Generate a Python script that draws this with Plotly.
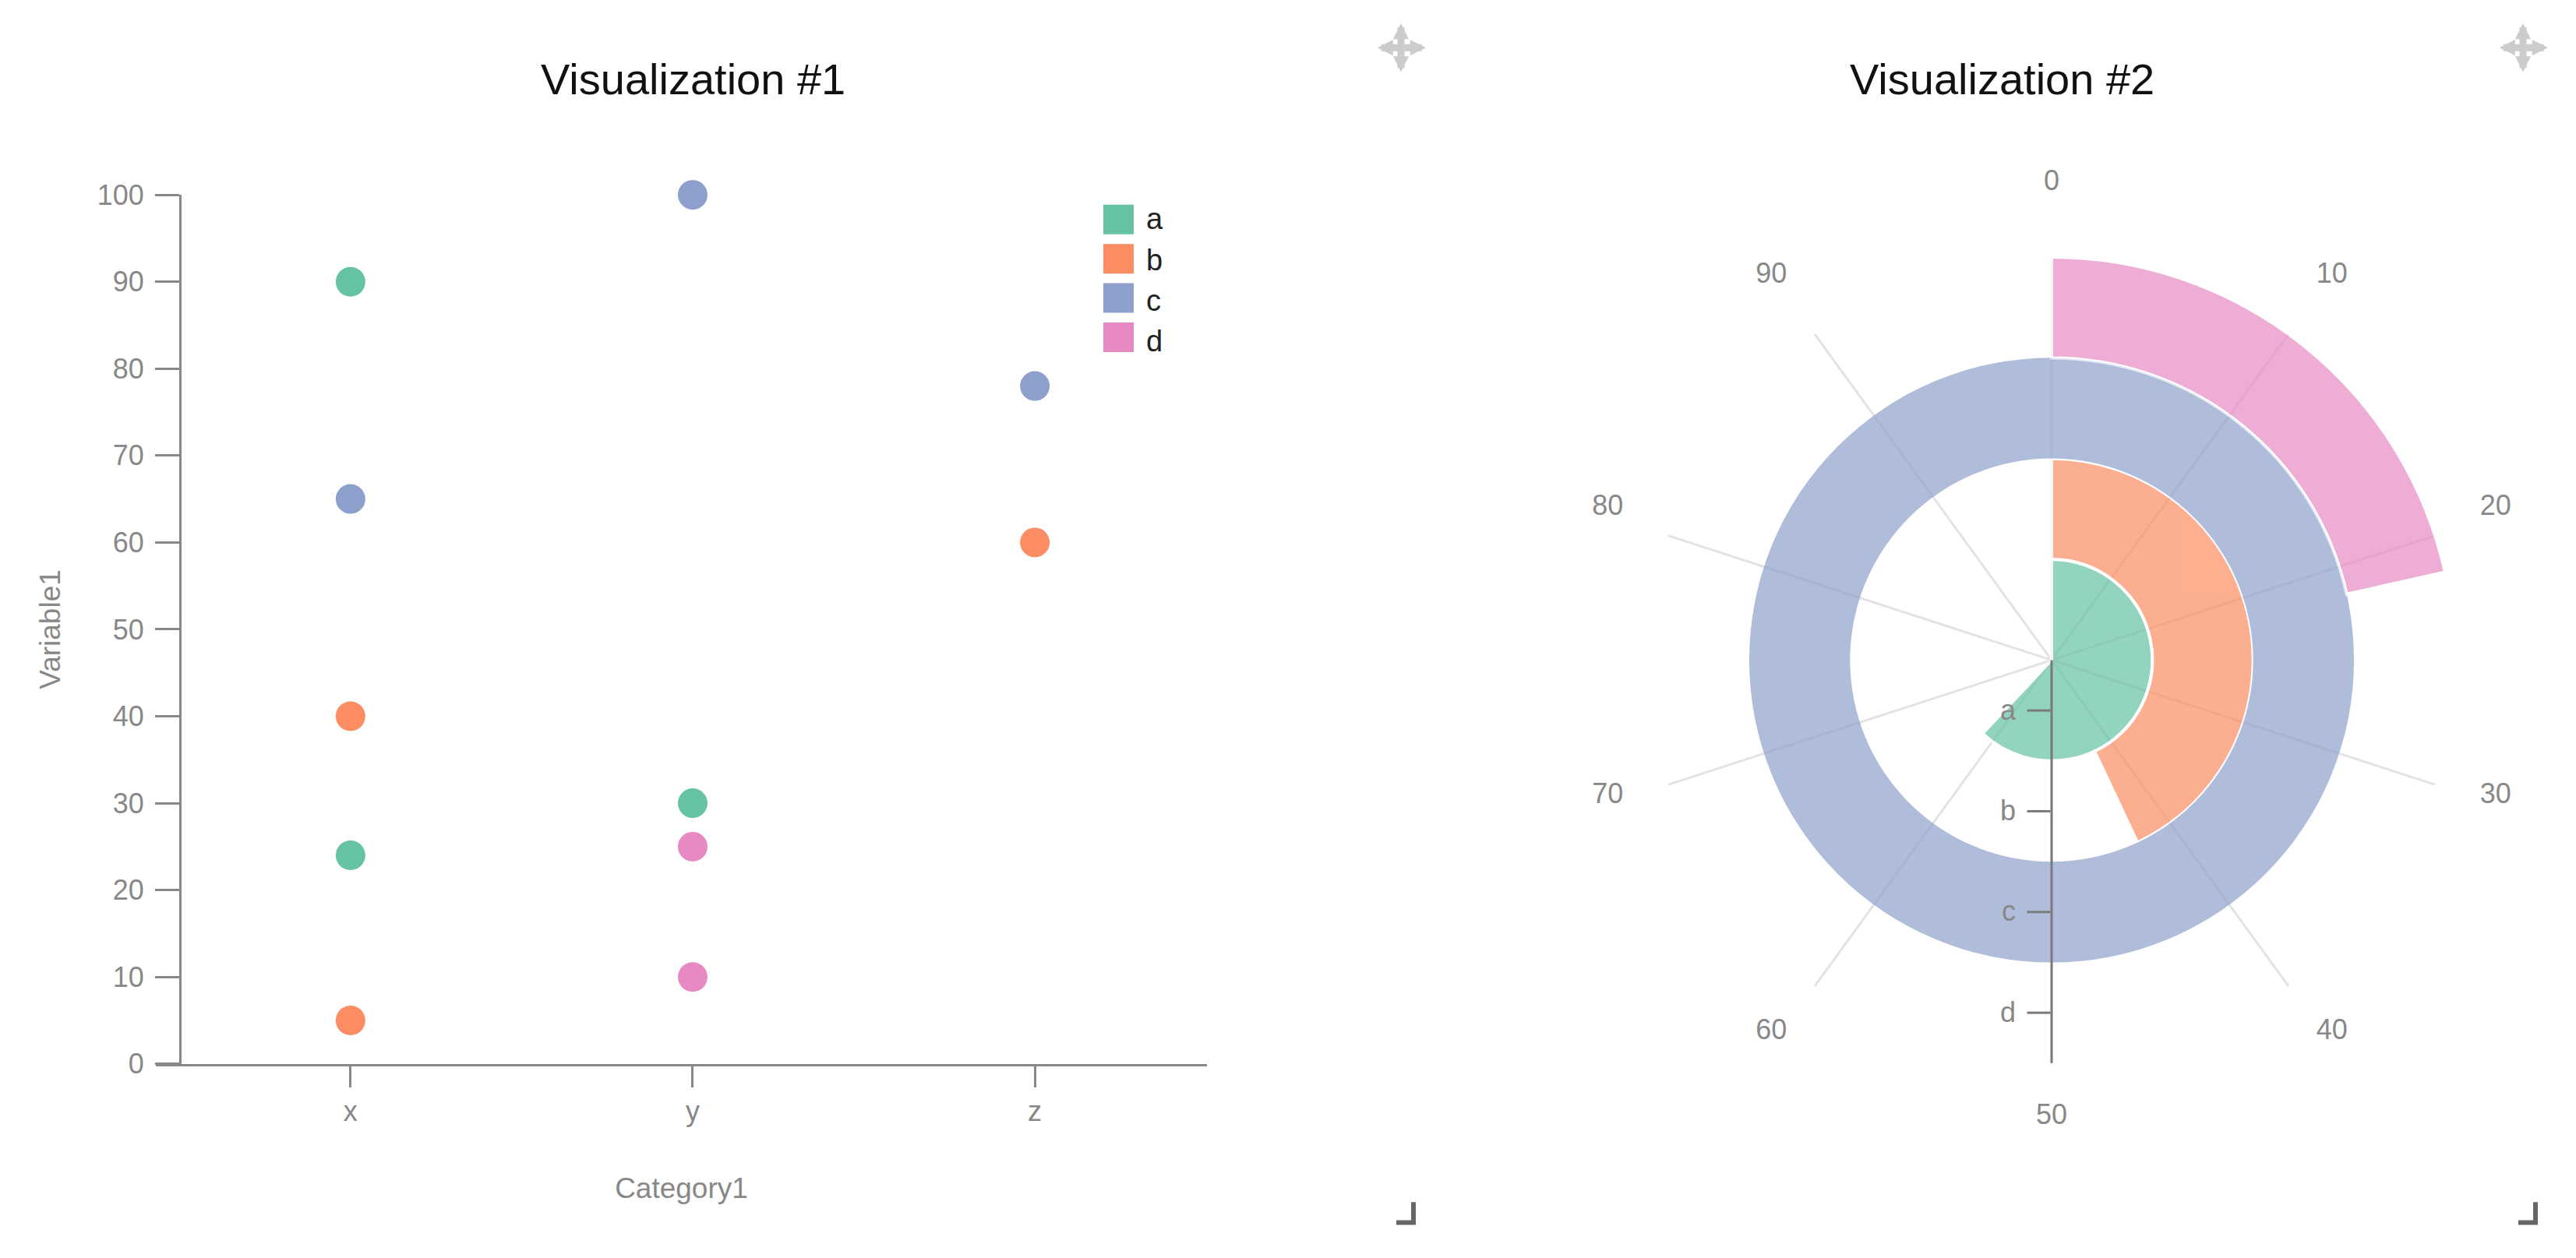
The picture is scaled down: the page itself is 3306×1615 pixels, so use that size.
import plotly.graph_objects as go

# scatter data (Visualization #1)
categories = ["x", "y", "z"]
groups = ["a", "b", "c", "d"]
a_cat = ["x", "x", "y"]
a_val = [90, 24, 30]
b_cat = ["x", "x", "z"]
b_val = [40, 5, 60]
c_cat = ["x", "y", "z"]
c_val = [65, 100, 78]
d_cat = ["y", "y"]
d_val = [25, 10]

# radial bar data (Visualization #2), angular scale 0-100
ring_values = [62, 43, 100, 21.5]
angle_ticks = [0, 10, 20, 30, 40, 50, 60, 70, 80, 90]

colors = ["#66c2a5", "#fc8d62", "#8da0cb", "#e78ac3"]

# the page body keeps its default 8px margin, so the figure is a bit smaller
OFF = 8
W, H = 3306 - 2 * OFF, 1615 - 2 * OFF
FONT = "Liberation Sans, Arial, sans-serif"
GRAY = "#888888"


def px_x(v):
    return (v - OFF) / W


def px_y(v):
    return 1 - (v - OFF) / H


fig = go.Figure()

points = [(a_cat, a_val), (b_cat, b_val), (c_cat, c_val), (d_cat, d_val)]
for name, (cats, vals), col in zip(groups, points, colors):
    fig.add_trace(go.Scatter(
        x=cats, y=vals, mode="markers", name=name, legendgroup=name,
        showlegend=False, cliponaxis=False,
        marker=dict(size=38, color=col, line=dict(width=0)),
        xaxis="x", yaxis="y",
    ))
    # legend entry; its swatch is drawn as a bigger square below
    fig.add_trace(go.Scatter(
        x=[None], y=[None], mode="markers", name=name, legendgroup=name,
        marker=dict(size=2, color="rgba(0,0,0,0)"),
        xaxis="x", yaxis="y",
    ))

for i, (name, v, col) in enumerate(zip(groups, ring_values, colors)):
    deg = v * 3.6
    fig.add_trace(go.Barpolar(
        r=[1], base=[i], theta=[deg / 2], width=[deg],
        name=name, showlegend=False, opacity=0.7,
        marker=dict(color=col, line=dict(color="white", width=0 if v >= 100 else 4)),
        subplot="polar",
    ))
# empty trace so the label-only overlay subplot gets drawn
fig.add_trace(go.Barpolar(r=[], theta=[], showlegend=False, subplot="polar2"))

angular_common = dict(
    rotation=90, direction="clockwise", thetaunit="degrees",
    tickvals=[t * 3.6 for t in angle_ticks],
    ticktext=[str(t) for t in angle_ticks],
    showline=False,
)

fig.update_layout(
    width=W, height=H,
    margin=dict(l=0, r=0, t=0, b=0),
    paper_bgcolor="white", plot_bgcolor="white",
    font=dict(family=FONT, size=36, color=GRAY),
    xaxis=dict(
        domain=[px_x(200), px_x(1549)],
        type="category", categoryorder="array", categoryarray=categories,
        range=[-0.569, 2.503],
        showgrid=False, zeroline=False,
        showline=True, linecolor=GRAY, linewidth=3,
        ticks="outside", ticklen=27, tickwidth=3, tickcolor=GRAY,
        ticklabelstandoff=0,
        tickfont=dict(size=36, color=GRAY),
        title=dict(text="Category1", standoff=67, font=dict(size=37, color=GRAY)),
        fixedrange=True,
    ),
    yaxis=dict(
        domain=[px_y(1381), px_y(236)],
        anchor="free", position=px_x(231),
        range=[0, 100], dtick=10,
        showgrid=False, zeroline=False,
        showline=True, linecolor=GRAY, linewidth=3,
        ticks="outside", ticklen=31, tickwidth=3, tickcolor=GRAY,
        ticklabelstandoff=7,
        tickfont=dict(size=36, color=GRAY),
        title=dict(text="Variable1", standoff=34, font=dict(size=37, color=GRAY)),
        fixedrange=True,
    ),
    legend=dict(
        x=px_x(1431), y=px_y(234), xanchor="left", yanchor="top",
        font=dict(size=38, color="#222222"),
        bgcolor="rgba(0,0,0,0)", tracegroupgap=0,
    ),
    polar=dict(
        domain=dict(x=[px_x(2102), px_x(3164)], y=[px_y(1380), px_y(318)]),
        bgcolor="white",
        angularaxis=dict(
            **angular_common,
            showgrid=True, gridcolor="#e3e3e3", gridwidth=2.5,
            showticklabels=False, ticks="",
        ),
        radialaxis=dict(
            range=[0, 4], angle=-90, side="clockwise", tickangle=-90,
            tickvals=[0.5, 1.5, 2.5, 3.5], ticktext=groups,
            showgrid=False, showline=True, linecolor="#7a7a7a", linewidth=3,
            ticks="outside", ticklen=30, tickwidth=3, tickcolor="#7a7a7a",
            tickfont=dict(size=36, color=GRAY),
        ),
    ),
    # angular tick labels only, sitting slightly higher as in the reference
    polar2=dict(
        domain=dict(x=[px_x(2102), px_x(3164)], y=[px_y(1361.5), px_y(299.5)]),
        bgcolor="rgba(0,0,0,0)",
        angularaxis=dict(
            **angular_common,
            showgrid=False,
            ticks="outside", ticklen=53, tickcolor="rgba(0,0,0,0)",
            tickfont=dict(size=36, color=GRAY),
        ),
        radialaxis=dict(range=[0, 4], visible=False),
    ),
)

# legend swatches (squares, as in the reference legend)
for i, col in enumerate(colors):
    top = 249 + i * 51.7
    fig.add_shape(
        type="rect", xref="paper", yref="paper",
        x0=px_x(1416), x1=px_x(1455), y0=px_y(top + 39), y1=px_y(top),
        fillcolor=col, line=dict(width=0),
    )

# panel titles
for text, cx in [("Visualization #1", 889), ("Visualization #2", 2569)]:
    fig.add_annotation(
        text=text, x=px_x(cx), y=px_y(83), xref="paper", yref="paper",
        showarrow=False, xanchor="center", yanchor="middle",
        font=dict(size=56, color="#111111", family=FONT),
    )

# move handles and resize corners of the two panels
for cx in [1798, 3238]:
    fig.add_annotation(
        text="", x=px_x(cx + 32), y=px_y(42), xref="paper", yref="paper",
        ax=-64, ay=0, showarrow=True, arrowhead=2, arrowside="end+start",
        arrowsize=0.45, arrowwidth=9, arrowcolor="#cccccc",
    )
    fig.add_annotation(
        text="", x=px_x(cx), y=px_y(10), xref="paper", yref="paper",
        ax=0, ay=64, showarrow=True, arrowhead=2, arrowside="end+start",
        arrowsize=0.45, arrowwidth=9, arrowcolor="#cccccc",
    )
for cx in [1814, 3254]:
    x0, x1 = px_x(cx - 22), px_x(cx)
    y0, y1 = px_y(1563), px_y(1590)
    fig.add_shape(
        type="path", xref="paper", yref="paper",
        path=f"M {x1} {y0} L {x1} {y1} L {x0} {y1}",
        line=dict(color="#666666", width=6),
    )

fig.write_html("out.html")
